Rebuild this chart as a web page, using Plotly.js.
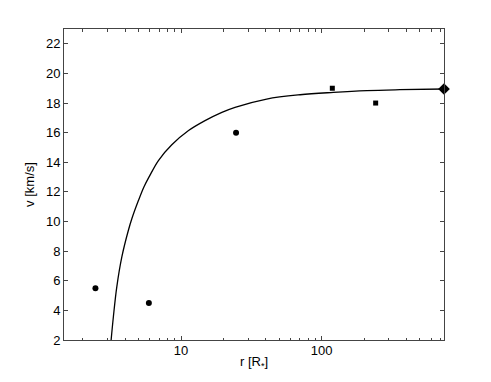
<!DOCTYPE html>
<html>
<head>
<meta charset="utf-8">
<script src="https://cdn.plot.ly/plotly-3.0.1.min.js"></script>
<style>
  html, body { margin: 0; padding: 0; background: #fff; }
  #chart { width: 491px; height: 382px; }
</style>
</head>
<body>
<div id="chart"></div>
<script>
// observed velocities
let circR = [2.46, 5.9, 24.6];
let circV = [5.5, 4.5, 16];
let sqR = [119, 242];
let sqV = [19, 18];
let diaR = [741];
let diaV = [18.95];

// model curve
let curveR = [3.18, 3.30, 3.49, 3.79, 4.22, 4.47, 4.98, 5.45, 5.95, 6.90, 8.59, 11.3, 14.8, 19.5, 24.2, 40.6, 70.2, 121, 209, 360, 741];
let curveV = [2.0, 3.57, 5.59, 7.61, 9.41, 10.2, 11.43, 12.35, 13.05, 14.12, 15.18, 16.14, 16.81, 17.37, 17.71, 18.27, 18.56, 18.72, 18.84, 18.9, 18.95];

let yTicks = [2, 4, 6, 8, 10, 12, 14, 16, 18, 20, 22];
let xTicks = [10, 100];
let xMinor = [2, 3, 4, 5, 6, 7, 8, 9, 20, 30, 40, 50, 60, 70, 80, 90, 200, 300, 400, 500, 600, 700];

let curve = {
    x: curveR, y: curveV,
    mode: 'lines', line: {color: '#000', width: 1.3, shape: 'spline', smoothing: 1},
    hoverinfo: 'skip'
};
let circles = {
    x: circR, y: circV,
    mode: 'markers', marker: {symbol: 'circle', size: 6, color: '#000'}
};
let squares = {
    x: sqR, y: sqV,
    mode: 'markers', marker: {symbol: 'square', size: 5, color: '#000'}
};
let diamond = {
    x: diaR, y: diaV,
    mode: 'markers', marker: {symbol: 'diamond', size: 9, color: '#000'},
    cliponaxis: false
};

let axisFont = {family: 'Liberation Sans, Arial, sans-serif', size: 13, color: '#000'};

let layout = {
    width: 491,
    height: 382,
    showlegend: false,
    paper_bgcolor: '#fff',
    plot_bgcolor: '#fff',
    margin: {l: 64, r: 47, t: 29, b: 42, pad: 0},
    font: axisFont,
    xaxis: {
        type: 'log',
        range: [Math.log10(1.47), Math.log10(741)],
        tickmode: 'array',
        tickvals: xTicks,
        ticks: 'inside',
        ticklen: 4,
        tickcolor: '#444',
        ticklabelstandoff: -2,
        minor: {tickmode: 'array', tickvals: xMinor, ticks: 'inside', ticklen: 2.5, tickcolor: '#444', showgrid: false},
        showline: true,
        linecolor: '#444',
        linewidth: 1,
        mirror: 'ticks',
        showgrid: false,
        zeroline: false,
        tickfont: axisFont,
        title: {text: 'r [R<sub>*</sub>]', font: axisFont, standoff: 0}
    },
    yaxis: {
        range: [2, 23],
        tickmode: 'array',
        tickvals: yTicks,
        ticks: 'inside',
        ticklen: 4,
        tickcolor: '#444',
        showline: true,
        linecolor: '#444',
        linewidth: 1,
        mirror: 'ticks',
        showgrid: false,
        zeroline: false,
        tickfont: axisFont,
        title: {text: 'v [km/s]', font: axisFont, standoff: 8}
    }
};

Plotly.newPlot('chart', [curve, circles, squares, diamond], layout, {displayModeBar: false, staticPlot: true});
</script>
</body>
</html>
